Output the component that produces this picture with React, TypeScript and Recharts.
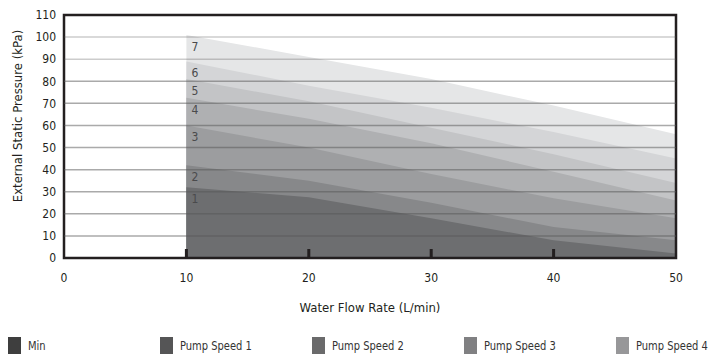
import React from 'react';
import {
  AreaChart,
  Area,
  XAxis,
  YAxis,
  ReferenceLine,
  ReferenceArea,
  LabelList,
  Legend,
} from 'recharts';

// x positions (L/min)
const flowRates = [10, 20, 30, 40, 50];

// top edge of each pump speed band (kPa)
const speed1 = [32, 27.5, 18, 8, 2];
const speed2 = [42, 35, 25, 14, 8];
const speed3 = [60, 50, 38, 27, 18];
const speed4 = [72.5, 63, 52, 39, 26];
const speed5 = [81, 71, 59, 47, 34];
const speed6 = [89, 78, 68, 57, 45];
const speed7 = [101, 91, 81, 69, 56];

const xTicks = [0, 10, 20, 30, 40, 50];
const yTicks = [0, 10, 20, 30, 40, 50, 60, 70, 80, 90, 100, 110];
const gridValues = [10, 20, 30, 40, 50, 60, 70, 80, 90, 100];
const legendLabels = ['Min', 'Pump Speed 1', 'Pump Speed 2', 'Pump Speed 3', 'Pump Speed 4'];

const FONT = '"DejaVu Sans Condensed", "DejaVu Sans", sans-serif';
const STRETCH = 'condensed';
const DARK = '#231f20';

// drawn back to front: widest band first
const bands = [
  { key: 's7', label: '7', values: speed7 },
  { key: 's6', label: '6', values: speed6 },
  { key: 's5', label: '5', values: speed5 },
  { key: 's4', label: '4', values: speed4 },
  { key: 's3', label: '3', values: speed3 },
  { key: 's2', label: '2', values: speed2 },
  { key: 's1', label: '1', values: speed1 },
];
const bandFills = ['#e5e6e7', '#d4d5d7', '#c3c4c6', '#afb0b2', '#9c9d9f', '#87888a', '#6d6e70'];
const legendFills = ['#3e3e3e', '#555556', '#6a6a6b', '#808082', '#979799'];

const chartData = flowRates.map((x, i) => {
  const row: Record<string, number> = { x };
  bands.forEach((b) => {
    row[b.key] = b.values[i];
  });
  return row;
});

const TICK_MARGIN = 15;

const XTick = (props: any) => {
  const { x, y, payload } = props;
  const axisY = y - TICK_MARGIN;
  const inner = payload.value > 0 && payload.value < 50;
  return (
    <g>
      {inner && <rect x={x - 1.5} y={axisY - 9} width={3} height={9} fill={DARK} />}
      <text
        x={x}
        y={y}
        dy="0.71em"
        textAnchor="middle"
        fontSize={12}
        fontFamily={FONT}
        style={{ fontStretch: STRETCH }}
        fill={DARK}
      >
        {payload.value}
      </text>
    </g>
  );
};

const BandLabel = (props: any) => {
  const { x, y, index, value } = props;
  if (index !== 0) return null;
  return (
    <text
      x={x + 5}
      y={y + 12}
      dominantBaseline="central"
      fontSize={12}
      fontFamily={FONT}
      style={{ fontStretch: STRETCH }}
      fill="#4a4a4c"
    >
      {value}
    </text>
  );
};

const LegendRow = () => (
  <div
    style={{
      position: 'relative',
      width: 715,
      height: 40,
      fontFamily: FONT,
      fontStretch: STRETCH,
      fontSize: 11.5,
      color: '#333',
    }}
  >
    {legendLabels.map((name, i) => (
      <div
        key={name}
        style={{
          position: 'absolute',
          left: 8 + i * 152,
          top: 21,
          display: 'flex',
          alignItems: 'center',
          whiteSpace: 'nowrap',
        }}
      >
        <span style={{ display: 'inline-block', width: 13, height: 17, background: legendFills[i] }} />
        <span style={{ marginLeft: 7, display: 'inline-block', transform: 'scaleX(0.96)', transformOrigin: 'left center' }}>
          {name}
        </span>
      </div>
    ))}
  </div>
);

export default function App() {
  return (
    <div style={{ position: 'absolute', left: 0, top: 0, width: 715, height: 356, background: '#fff' }}>
      <AreaChart width={715} height={356} data={chartData} margin={{ top: 15, right: 39, left: 0, bottom: 0 }}>
        <XAxis
          dataKey="x"
          type="number"
          domain={[0, 50]}
          ticks={xTicks}
          axisLine={false}
          tickLine={false}
          tickSize={0}
          tickMargin={TICK_MARGIN}
          tick={<XTick />}
          height={58}
          label={{
            value: 'Water Flow Rate (L/min)',
            position: 'insideBottom',
            offset: 4,
            style: { fontFamily: FONT, fontStretch: STRETCH, fontSize: 13, fill: DARK },
          }}
        />
        <YAxis
          type="number"
          domain={[0, 110]}
          ticks={yTicks}
          width={64}
          axisLine={false}
          tickLine={false}
          tickSize={0}
          tickMargin={8}
          tick={{ fontFamily: FONT, fontSize: 12, fill: DARK, style: { fontStretch: STRETCH } }}
          label={{
            value: 'External Static Pressure (kPa)',
            angle: -90,
            content: () => (
              <text
                x={17}
                y={116}
                transform="rotate(-90, 17, 116)"
                textAnchor="middle"
                dominantBaseline="central"
                fontFamily={FONT}
                fontSize={13}
                style={{ fontStretch: STRETCH }}
                fill={DARK}
              >
                External Static Pressure (kPa)
              </text>
            ),
          }}
        />
        {bands.map((b, i) => (
          <Area
            key={b.key}
            type="linear"
            dataKey={b.key}
            stroke="none"
            fill={bandFills[i]}
            fillOpacity={1}
            isAnimationActive={false}
          >
            <LabelList dataKey={b.key} content={(p: any) => <BandLabel {...p} value={b.label} />} />
          </Area>
        ))}
        {gridValues.map((v) => (
          <ReferenceLine
            key={v}
            y={v}
            stroke="#555"
            strokeOpacity={v >= 90 ? 0.3 : 0.5}
            strokeWidth={1.5}
          />
        ))}
        <ReferenceArea x1={0} x2={50} y1={0} y2={110} fill="none" stroke={DARK} strokeWidth={2.5} />
        <Legend
          verticalAlign="bottom"
          content={() => <LegendRow />}
          wrapperStyle={{ left: 0, bottom: 0, width: 715, height: 40 }}
        />
      </AreaChart>
    </div>
  );
}
